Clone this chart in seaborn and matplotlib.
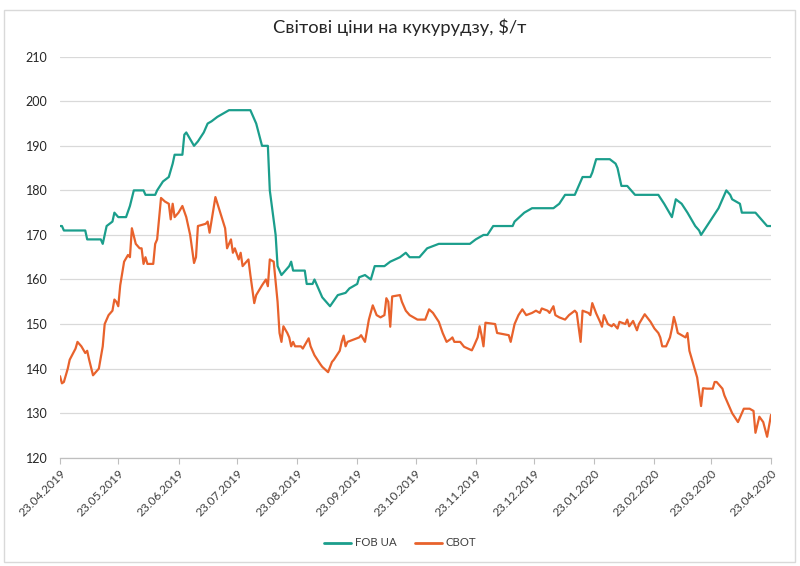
import matplotlib
matplotlib.use("Agg")
import matplotlib.pyplot as plt
from matplotlib.patches import Rectangle
import pandas as pd
import seaborn as sns

title = "Світові ціни на кукурудзу, $/т"
series_names = ["FOB UA", "CBOT"]
colors = ["#1b9e8c", "#e8622c"]

fob_dates = [
    "2019-04-23", "2019-04-24", "2019-04-25", "2019-05-06", "2019-05-07", "2019-05-14", "2019-05-15",
    "2019-05-17", "2019-05-20", "2019-05-21", "2019-05-23", "2019-05-27", "2019-05-29", "2019-05-31",
    "2019-06-05", "2019-06-06", "2019-06-11", "2019-06-12", "2019-06-15", "2019-06-18", "2019-06-20",
    "2019-06-21", "2019-06-25", "2019-06-26", "2019-06-27", "2019-07-01", "2019-07-03", "2019-07-06",
    "2019-07-08", "2019-07-10", "2019-07-13", "2019-07-15", "2019-07-19", "2019-07-30", "2019-07-31",
    "2019-08-02", "2019-08-05", "2019-08-08", "2019-08-09", "2019-08-12", "2019-08-13", "2019-08-15",
    "2019-08-19", "2019-08-20", "2019-08-21", "2019-08-27", "2019-08-28", "2019-08-31", "2019-09-01",
    "2019-09-05", "2019-09-09", "2019-09-13", "2019-09-17", "2019-09-19", "2019-09-23", "2019-09-24",
    "2019-09-27", "2019-09-30", "2019-10-02", "2019-10-07", "2019-10-10", "2019-10-15", "2019-10-18",
    "2019-10-20", "2019-10-25", "2019-10-29", "2019-11-04", "2019-11-20", "2019-11-23", "2019-11-27",
    "2019-11-29", "2019-12-02", "2019-12-12", "2019-12-13", "2019-12-18", "2019-12-22", "2020-01-02",
    "2020-01-05", "2020-01-08", "2020-01-13", "2020-01-16", "2020-01-17", "2020-01-21", "2020-01-22",
    "2020-01-24", "2020-01-31", "2020-02-03", "2020-02-04", "2020-02-06", "2020-02-09", "2020-02-11",
    "2020-02-13", "2020-02-25", "2020-02-28", "2020-03-01", "2020-03-03", "2020-03-05", "2020-03-08",
    "2020-03-11", "2020-03-15", "2020-03-17", "2020-03-18", "2020-03-21", "2020-03-24", "2020-03-27",
    "2020-03-29", "2020-03-31", "2020-04-02", "2020-04-03", "2020-04-07", "2020-04-08", "2020-04-15",
    "2020-04-17", "2020-04-19", "2020-04-21", "2020-04-23",
]
fob_values = [
    172, 172, 171, 171, 169, 169, 168,
    172, 173, 175, 174, 174, 176.5, 180,
    180, 179, 179, 180, 182, 183, 186,
    188, 188, 192.5, 193, 190, 191, 193,
    195, 195.5, 196.5, 197, 198, 198, 197,
    195, 190, 190, 180, 170, 163, 161,
    163, 164, 162, 162, 159, 159, 160,
    156, 154, 156.5, 157, 158, 159, 160.5,
    161, 160, 163, 163, 164, 165, 166,
    165, 165, 167, 168, 168, 169, 170,
    170, 172, 172, 173, 175, 176, 176,
    177, 179, 179, 182, 183, 183, 184,
    187, 187, 186, 185, 181, 181, 180,
    179, 179, 177, 175.5, 174, 178, 177,
    175, 172, 171, 170, 172, 174, 176,
    178, 180, 179, 178, 177, 175, 175,
    174, 173, 172, 172,
]

cbot_dates = [
    "2019-04-23", "2019-04-24", "2019-04-25", "2019-04-27", "2019-04-28", "2019-05-01", "2019-05-02",
    "2019-05-04", "2019-05-06", "2019-05-07", "2019-05-08", "2019-05-10", "2019-05-12", "2019-05-13",
    "2019-05-15", "2019-05-16", "2019-05-18", "2019-05-20", "2019-05-21", "2019-05-22", "2019-05-23",
    "2019-05-24", "2019-05-26", "2019-05-28", "2019-05-29", "2019-05-30", "2019-06-01", "2019-06-03",
    "2019-06-04", "2019-06-05", "2019-06-06", "2019-06-07", "2019-06-10", "2019-06-11", "2019-06-12",
    "2019-06-14", "2019-06-16", "2019-06-18", "2019-06-19", "2019-06-20", "2019-06-21", "2019-06-23",
    "2019-06-25", "2019-06-27", "2019-06-29", "2019-07-01", "2019-07-02", "2019-07-03", "2019-07-07",
    "2019-07-08", "2019-07-09", "2019-07-12", "2019-07-17", "2019-07-18", "2019-07-20", "2019-07-21",
    "2019-07-22", "2019-07-24", "2019-07-25", "2019-07-26", "2019-07-29", "2019-07-30", "2019-08-01",
    "2019-08-02", "2019-08-05", "2019-08-07", "2019-08-08", "2019-08-09", "2019-08-11", "2019-08-13",
    "2019-08-14", "2019-08-15", "2019-08-16", "2019-08-18", "2019-08-19", "2019-08-20", "2019-08-21",
    "2019-08-22", "2019-08-25", "2019-08-26", "2019-08-29", "2019-08-30", "2019-09-01", "2019-09-04",
    "2019-09-05", "2019-09-08", "2019-09-10", "2019-09-11", "2019-09-14", "2019-09-15", "2019-09-16",
    "2019-09-17", "2019-09-18", "2019-09-21", "2019-09-24", "2019-09-25", "2019-09-27", "2019-09-29",
    "2019-10-01", "2019-10-03", "2019-10-05", "2019-10-07", "2019-10-08", "2019-10-09", "2019-10-10",
    "2019-10-11", "2019-10-15", "2019-10-16", "2019-10-18", "2019-10-20", "2019-10-22", "2019-10-24",
    "2019-10-28", "2019-10-30", "2019-11-01", "2019-11-04", "2019-11-06", "2019-11-08", "2019-11-10",
    "2019-11-11", "2019-11-12", "2019-11-15", "2019-11-17", "2019-11-21", "2019-11-22", "2019-11-24",
    "2019-11-25", "2019-11-26", "2019-11-27", "2019-11-28", "2019-12-03", "2019-12-04", "2019-12-10",
    "2019-12-11", "2019-12-13", "2019-12-15", "2019-12-17", "2019-12-19", "2019-12-22", "2019-12-24",
    "2019-12-26", "2019-12-27", "2019-12-30", "2019-12-31", "2020-01-02", "2020-01-03", "2020-01-05",
    "2020-01-08", "2020-01-10", "2020-01-13", "2020-01-14", "2020-01-16", "2020-01-17", "2020-01-20",
    "2020-01-21", "2020-01-22", "2020-01-24", "2020-01-26", "2020-01-27", "2020-01-28", "2020-01-30",
    "2020-02-01", "2020-02-02", "2020-02-04", "2020-02-05", "2020-02-08", "2020-02-09", "2020-02-10",
    "2020-02-12", "2020-02-14", "2020-02-15", "2020-02-18", "2020-02-21", "2020-02-23", "2020-02-25",
    "2020-02-26", "2020-02-27", "2020-02-29", "2020-03-02", "2020-03-03", "2020-03-04", "2020-03-05",
    "2020-03-06", "2020-03-08", "2020-03-10", "2020-03-11", "2020-03-12", "2020-03-14", "2020-03-16",
    "2020-03-18", "2020-03-19", "2020-03-21", "2020-03-24", "2020-03-25", "2020-03-26", "2020-03-29",
    "2020-03-30", "2020-03-31", "2020-04-02", "2020-04-03", "2020-04-06", "2020-04-08", "2020-04-09",
    "2020-04-12", "2020-04-14", "2020-04-15", "2020-04-17", "2020-04-19", "2020-04-21", "2020-04-23",
]
cbot_values = [
    138.3, 136.7, 137, 140, 142, 144.5, 146,
    145, 143.5, 144, 142, 138.5, 139.5, 140,
    145, 150, 152, 153, 155.5, 155, 154,
    158.7, 164, 165.5, 165, 171.5, 168, 167,
    167, 163.5, 165, 163.5, 163.5, 168, 169,
    178.3, 177.5, 177, 173.5, 177, 174, 175,
    176.5, 174, 170, 163.7, 165, 172, 172.5,
    173, 170.5, 178.5, 171.5, 167, 169, 166,
    167, 164.5, 166, 163, 164.5, 161, 154.7,
    156.5, 158.7, 160, 158.5, 164.5, 164, 155,
    148, 146, 149.5, 148, 147, 145, 146,
    145, 145, 144.5, 146.8, 145, 143, 141,
    140.4, 139.2, 141.5, 142, 144, 146, 147.4,
    145, 146, 146.5, 147, 147.5, 146, 151,
    154.2, 152, 151.5, 152, 155.8, 155, 149.4,
    156.2, 156.5, 155, 153, 152, 151.5, 151,
    151, 153.3, 152.5, 150.5, 148, 146, 146.6,
    147, 146, 146, 144.9, 144.1, 145, 147,
    149.5, 147.5, 145, 150.3, 150, 148, 147.5,
    146, 150, 152, 153.3, 152, 152.5, 153,
    152.5, 153.5, 153, 152.5, 154, 152, 151.5,
    151, 152, 153, 152.5, 146, 153, 152.5,
    152, 154.7, 152.4, 150.5, 149.4, 152, 150,
    149.5, 150, 149, 150.5, 150, 151, 149.5,
    150.7, 148.6, 150, 152.2, 150.5, 149, 148,
    147, 145, 145, 147, 149, 151.6, 150,
    148, 147.5, 147, 148, 144, 141, 138,
    131.6, 135.6, 135.5, 135.5, 137, 137, 135.5,
    134, 133, 131, 130, 128, 130, 131,
    131, 130.5, 125.6, 129.2, 128, 124.7, 129.6,
]

month_ticks = [
    "2019-04-23", "2019-05-23", "2019-06-23", "2019-07-23", "2019-08-23", "2019-09-23",
    "2019-10-23", "2019-11-23", "2019-12-23", "2020-01-23", "2020-02-23", "2020-03-23", "2020-04-23",
]
y_ticks = [120, 130, 140, 150, 160, 170, 180, 190, 200, 210]

df = pd.concat([
    pd.DataFrame({"date": pd.to_datetime(fob_dates), "price": fob_values, "series": series_names[0]}),
    pd.DataFrame({"date": pd.to_datetime(cbot_dates), "price": cbot_values, "series": series_names[1]}),
], ignore_index=True)

sns.set_theme(style="white")
plt.rcParams["font.family"] = ["Lato", "DejaVu Sans"]

fig = plt.figure(figsize=(8, 5.66), dpi=100)
ax = fig.add_axes([0.075, 0.1913, 0.88875, 0.7085])

sns.lineplot(data=df, x="date", y="price", hue="series", palette=colors,
             hue_order=series_names, linewidth=1.6, ax=ax, legend=True)

ticks = pd.to_datetime(month_ticks)
ax.set_xlim(ticks[0], ticks[-1])
ax.set_ylim(120, 210)
ax.set_yticks(y_ticks)
ax.set_xticks(ticks)
ax.set_xticklabels([t.strftime("%d.%m.%Y") for t in ticks], rotation=45, ha="right",
                   rotation_mode="anchor", fontsize=8.6, color="#404040")
ax.tick_params(axis="y", labelsize=9, labelcolor="#262626", length=0, pad=9)
ax.tick_params(axis="x", length=4, width=0.8, color="#bfbfbf", direction="out", pad=3, bottom=True)
ax.grid(axis="y", color="#d9d9d9", linewidth=0.9)
ax.set_axisbelow(True)
for s in ["top", "right", "left"]:
    ax.spines[s].set_visible(False)
ax.spines["bottom"].set_color("#bfbfbf")
ax.spines["bottom"].set_linewidth(0.9)
ax.set_xlabel("")
ax.set_ylabel("")

handles, labels = ax.get_legend_handles_labels()
ax.legend_.remove()
for h in handles:
    h.set_linewidth(2)
fig.legend(handles, labels, loc="center", bbox_to_anchor=(0.5, 1 - 543 / 566), ncol=2,
           frameon=False, fontsize=8.2, handlelength=2.4, columnspacing=1.6, handletextpad=0.3,
           labelcolor="#404040")

fig.text(0.5, 1 - 27 / 566, title, ha="center", va="center", fontsize=13.2, color="#262626")

fig.patches.append(Rectangle((4 / 800, 1 - 562 / 566), 791 / 800, 552 / 566, transform=fig.transFigure,
                             fill=False, edgecolor="#d9d9d9", linewidth=1))

fig.savefig("out.png", dpi=100)
